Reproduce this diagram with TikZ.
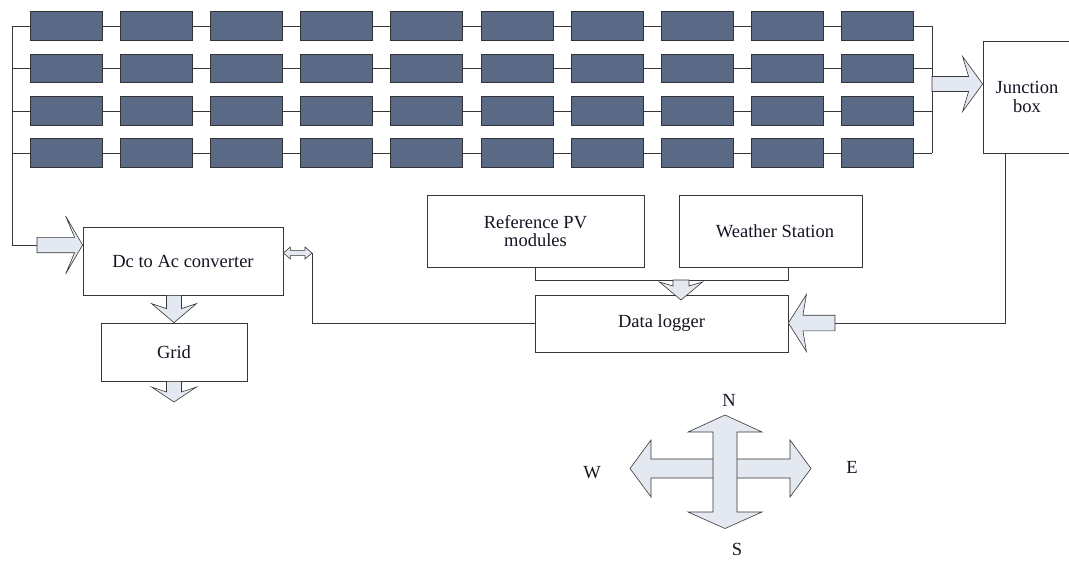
\documentclass[tikz,border=0pt]{standalone}
\usepackage{fontspec}
\setmainfont{Liberation Serif}
\usetikzlibrary{calc}
\definecolor{panelc}{RGB}{90,106,134}
\definecolor{arrfill}{RGB}{228,232,240}
\definecolor{linec}{RGB}{55,55,55}
\definecolor{txtc}{RGB}{20,20,35}

% block arrow: #1 start, #2 end, #3 shaft half width, #4 head half width, #5 head length, #6 sweep
\newcommand\blockarrow[6]{%
  \path let \p1=($(#2)-(#1)$) in \pgfextra{%
    \pgfmathparse{atan2(\y1,\x1)}\xdef\baang{\pgfmathresult}%
    \pgfmathparse{veclen(\x1,\y1)}\xdef\balen{\pgfmathresult}};
  \draw[barrow, shift={(#1)}, rotate=\baang]
    (0,#3) -- ({\balen-#5+#6},#3) -- ({\balen-#5},#4) -- (\balen,0)
    -- ({\balen-#5},-#4) -- ({\balen-#5+#6},-#3) -- (0,-#3) -- cycle;
}
% double block arrow: #1 start, #2 end, #3 shaft half width, #4 head half width, #5 head length
\newcommand\dblarrow[5]{%
  \path let \p1=($(#2)-(#1)$) in \pgfextra{%
    \pgfmathparse{atan2(\y1,\x1)}\xdef\baang{\pgfmathresult}%
    \pgfmathparse{veclen(\x1,\y1)}\xdef\balen{\pgfmathresult}};
  \draw[barrow, shift={(#1)}, rotate=\baang]
    (0,0) -- (#5,#4) -- (#5,#3) -- ({\balen-#5},#3) -- ({\balen-#5},#4) -- (\balen,0)
    -- ({\balen-#5},-#4) -- ({\balen-#5},-#3) -- (#5,-#3) -- (#5,-#4) -- cycle;
}

\begin{document}
\begin{tikzpicture}[x=1pt,y=-1pt,
  barrow/.style={draw=linec, fill=arrfill, line width=0.6pt, line join=miter},
  wire/.style={draw=linec, line width=0.8pt},
  pv/.style={draw=black!80, fill=panelc, line width=0.8pt, minimum width=72pt, minimum height=28.5pt, inner sep=0pt},
  box/.style={draw=linec, fill=white, line width=0.8pt, inner sep=0pt, align=center, text=txtc,
    font=\fontsize{18.5}{18.5}\selectfont},
  lbl/.style={inner sep=0pt, text=txtc, font=\fontsize{18.5}{18.5}\selectfont}]
\useasboundingbox (0,0) rectangle (1069,560);

% PV array
\foreach \r/\y in {1/26,2/68.5,3/111,4/153}{
  \coordinate (lb\r) at (12,\y);
  \coordinate (rb\r) at (932,\y);
  \foreach \i in {1,...,10}
    \node[pv] (p\r-\i) at ({66+90.2*(\i-1)},\y) {};
}
\foreach \r in {1,...,4}{
  \draw[wire] (lb\r) -- (p\r-1.west);
  \foreach \i [evaluate=\i as \j using int(\i+1)] in {1,...,9}
    \draw[wire] (p\r-\i.east) -- (p\r-\j.west);
  \draw[wire] (p\r-10.east) -- (rb\r);
}
\draw[wire] (rb1) -- (rb4);

% boxes
\node[box, minimum width=88pt, minimum height=112pt] (jb) at (1027,97) {Junction\\box};
\node[box, minimum width=200pt, minimum height=68pt] (dcac) at (183,261) {Dc to Ac converter};
\node[box, minimum width=146pt, minimum height=58pt] (grid) at (174,352) {Grid};
\node[box, minimum width=217pt, minimum height=72pt] (ref) at (535.5,231) {Reference PV\\modules};
\node[box, minimum width=183pt, minimum height=72pt] (wx) at (770.5,231) {\hspace{9pt}Weather Station};
\node[box, minimum width=253pt, minimum height=57pt] (dl) at (661.5,323.5) {Data logger};

% helper coordinates
\coordinate (lbot) at (12,245);
\coordinate (dcin) at (37,245);
\coordinate (jin) at (932,84);
\coordinate (jd) at (1005,153);
\coordinate (dlin) at (835,323);
\coordinate (hb) at (535.5,280);
\coordinate (wxd) at (788,267);
\coordinate (dla) at (681,280);
\coordinate (dlat) at (681,300);
\coordinate (dbl) at (312,253);
\coordinate (gout) at (174,402);

% left bus to converter
\draw[wire] (lb1) -- (lbot) -- (dcin);
\blockarrow{dcin}{dcac.west |- dcin}{7.7}{29}{17}{9}

% array to junction box
\blockarrow{jin}{jb.west |- jin}{7.5}{27.5}{20}{6}

% junction box to data logger
\draw[wire] (jd) -- (jd |- dlin) -- (dlin);
\blockarrow{dlin}{dl.east |- dlin}{7.8}{28.5}{18}{3.5}

% reference modules and weather station to data logger
\draw[wire] (ref.south) -- (hb) -- (wxd |- hb) -- (wxd);
\blockarrow{dla}{dlat}{8}{21.5}{18}{4}

% data logger to converter
\draw[wire] (dbl) -- (dbl |- dl.west) -- (dl.west);
\dblarrow{dcac.east |- dbl}{dbl}{2.6}{6}{7}

% converter to grid, grid out
\blockarrow{grid.north |- dcac.south}{grid.north}{7.5}{22.5}{19}{5}
\blockarrow{grid.south}{gout}{7.5}{22.5}{15}{5}

% compass
\draw[barrow] (630,468.5) -- (651,440) -- (651,459) -- (790,459) -- (790,440) -- (811,468.5)
  -- (790,497) -- (790,478) -- (651,478) -- (651,497) -- cycle;
\draw[barrow] (725,415) -- (762,432) -- (737,432) -- (737,512) -- (762,512) -- (725,528.5)
  -- (688,512) -- (713,512) -- (713,432) -- (688,432) -- cycle;
\node[lbl] (N) at (729,400) {N};
\node[lbl] (W) at (592,473) {W};
\node[lbl] (E) at (852,467) {E};
\node[lbl] (S) at (737,549) {S};
\end{tikzpicture}
\end{document}
